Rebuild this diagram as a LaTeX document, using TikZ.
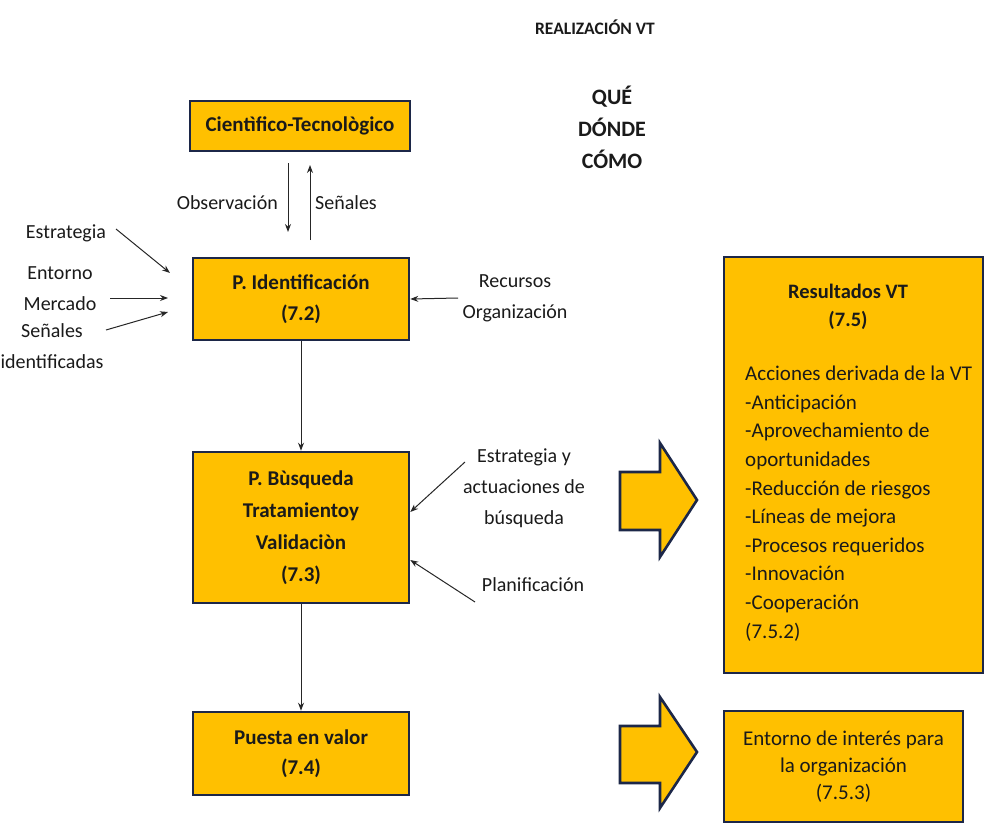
\documentclass[tikz,border=0pt]{standalone}
\usepackage{fontspec}
\setmainfont{Carlito}
\usetikzlibrary{arrows.meta}
\definecolor{gold}{HTML}{FFC000}
\definecolor{boxline}{HTML}{1C2748}
\definecolor{txt}{HTML}{1A1A1A}
\begin{document}
\begin{tikzpicture}[x=1pt,y=-1pt,
  box/.style={draw=boxline,line width=2.6pt,fill=gold,inner sep=0pt,
    font=\bfseries\fontsize{21}{31}\selectfont,align=center,text=txt},
  lbl/.style={font=\fontsize{20}{31}\selectfont,align=center,inner sep=0pt,text=txt},
  rtxt/.style={font=\fontsize{21}{28.6}\selectfont,align=left,inner sep=0pt,text=txt,anchor=north west},
  con/.style={-{Stealth[length=8pt,width=6pt]},line width=1pt,draw=black!85},
  big/.style={draw=boxline,line width=2.6pt,fill=gold,line join=miter}]
\useasboundingbox (0,0) rectangle (984,824);

% title
\node[font=\bfseries\fontsize{17.5}{20}\selectfont,text=txt] (title) at (595,27) {REALIZACIÓN VT};
\node[font=\bfseries\fontsize{22}{32}\selectfont,align=center,text=txt] (qdc) at (612,127) {QUÉ\\DÓNDE\\CÓMO};

% boxes
\node[box,minimum width=220pt,minimum height=50pt] (cient) at (300,126) {Cientìfico-Tecnològico};
\node[box,minimum width=216pt,minimum height=82pt] (ident) at (301,299) {P. Identificación\\(7.2)};
\node[box,minimum width=216pt,minimum height=151pt,font=\bfseries\fontsize{21}{32}\selectfont] (busq) at (301,527.5) {P. Bùsqueda\\Tratamientoy\\Validaciòn\\(7.3)};
\node[box,minimum width=216pt,minimum height=83pt,font=\bfseries\fontsize{21}{30}\selectfont] (puesta) at (301,753.5) {Puesta en valor\\(7.4)};
\node[box,minimum width=259pt,minimum height=416pt] (result) at (853.5,465) {};
\node[box,minimum width=239pt,minimum height=111pt,font=\fontsize{21}{27}\selectfont] (entorno) at (843.5,766.5) {Entorno de interés para\\la organización\\(7.5.3)};

% result texts
\node[font=\bfseries\fontsize{20.5}{28}\selectfont,align=center,text=txt] (rtit) at (848,307) {Resultados VT\\(7.5)};
\node[rtxt] (rlist) at (745,366) {Acciones derivada de la VT\\-Anticipación\\-Aprovechamiento de\\oportunidades\\-Reducción de riesgos\\-Líneas de mejora\\-Procesos requeridos\\-Innovación\\-Cooperación\\(7.5.2)};

% big arrows
\draw[big] (620,472) -- (660,472) -- (660,443) -- (697,500) -- (660,557) -- (660,530) -- (620,530) -- cycle;
\draw[big] (620,726) -- (660,726) -- (660,697) -- (697,752) -- (660,808) -- (660,783) -- (620,783) -- cycle;

% observation / signals
\coordinate (obsA) at (288,163);
\coordinate (obsB) at (288,232);
\coordinate (senA) at (310,240);
\coordinate (senB) at (310,165);
\draw[con] (obsA) -- (obsB);
\draw[con] (senA) -- (senB);
\node[lbl,anchor=east] (obs) at (278,203) {Observación};
\node[lbl,anchor=west] (sen) at (315,203) {Señales};

% left inputs
\node[lbl] (estr) at (66,233) {Estrategia};
\node[lbl] (entm) at (60,289) {Entorno\\Mercado};
\node[lbl] (senid) at (52,346) {Señales\\identificadas};
\node[lbl] (recu) at (515,298) {Recursos\\Organización};
\coordinate (e1) at (116,229);
\coordinate (e1t) at (170,273);
\coordinate (e2) at (110,298);
\coordinate (e2t) at (168,298);
\coordinate (e3) at (106,330);
\coordinate (e3t) at (168,312);
\coordinate (r1) at (458,298);
\draw[con] (e1) -- (e1t);
\draw[con] (e2) -- (e2t);
\draw[con] (e3) -- (e3t);
\draw[con] (r1) -- (ident.east);

% main flow
\draw[con] (ident.south) -- (busq.north);
\draw[con] (busq.south) -- (puesta.north);

% search inputs
\node[lbl] (estra2) at (524,488) {Estrategia y\\actuaciones de\\búsqueda};
\node[lbl] (plan) at (533,585) {Planificación};
\coordinate (s1) at (465,462);
\coordinate (p1) at (475,602);
\draw[con] (s1) -- (busq.east |- 0,512);
\draw[con] (p1) -- (busq.east |- 0,560);
\end{tikzpicture}
\end{document}
